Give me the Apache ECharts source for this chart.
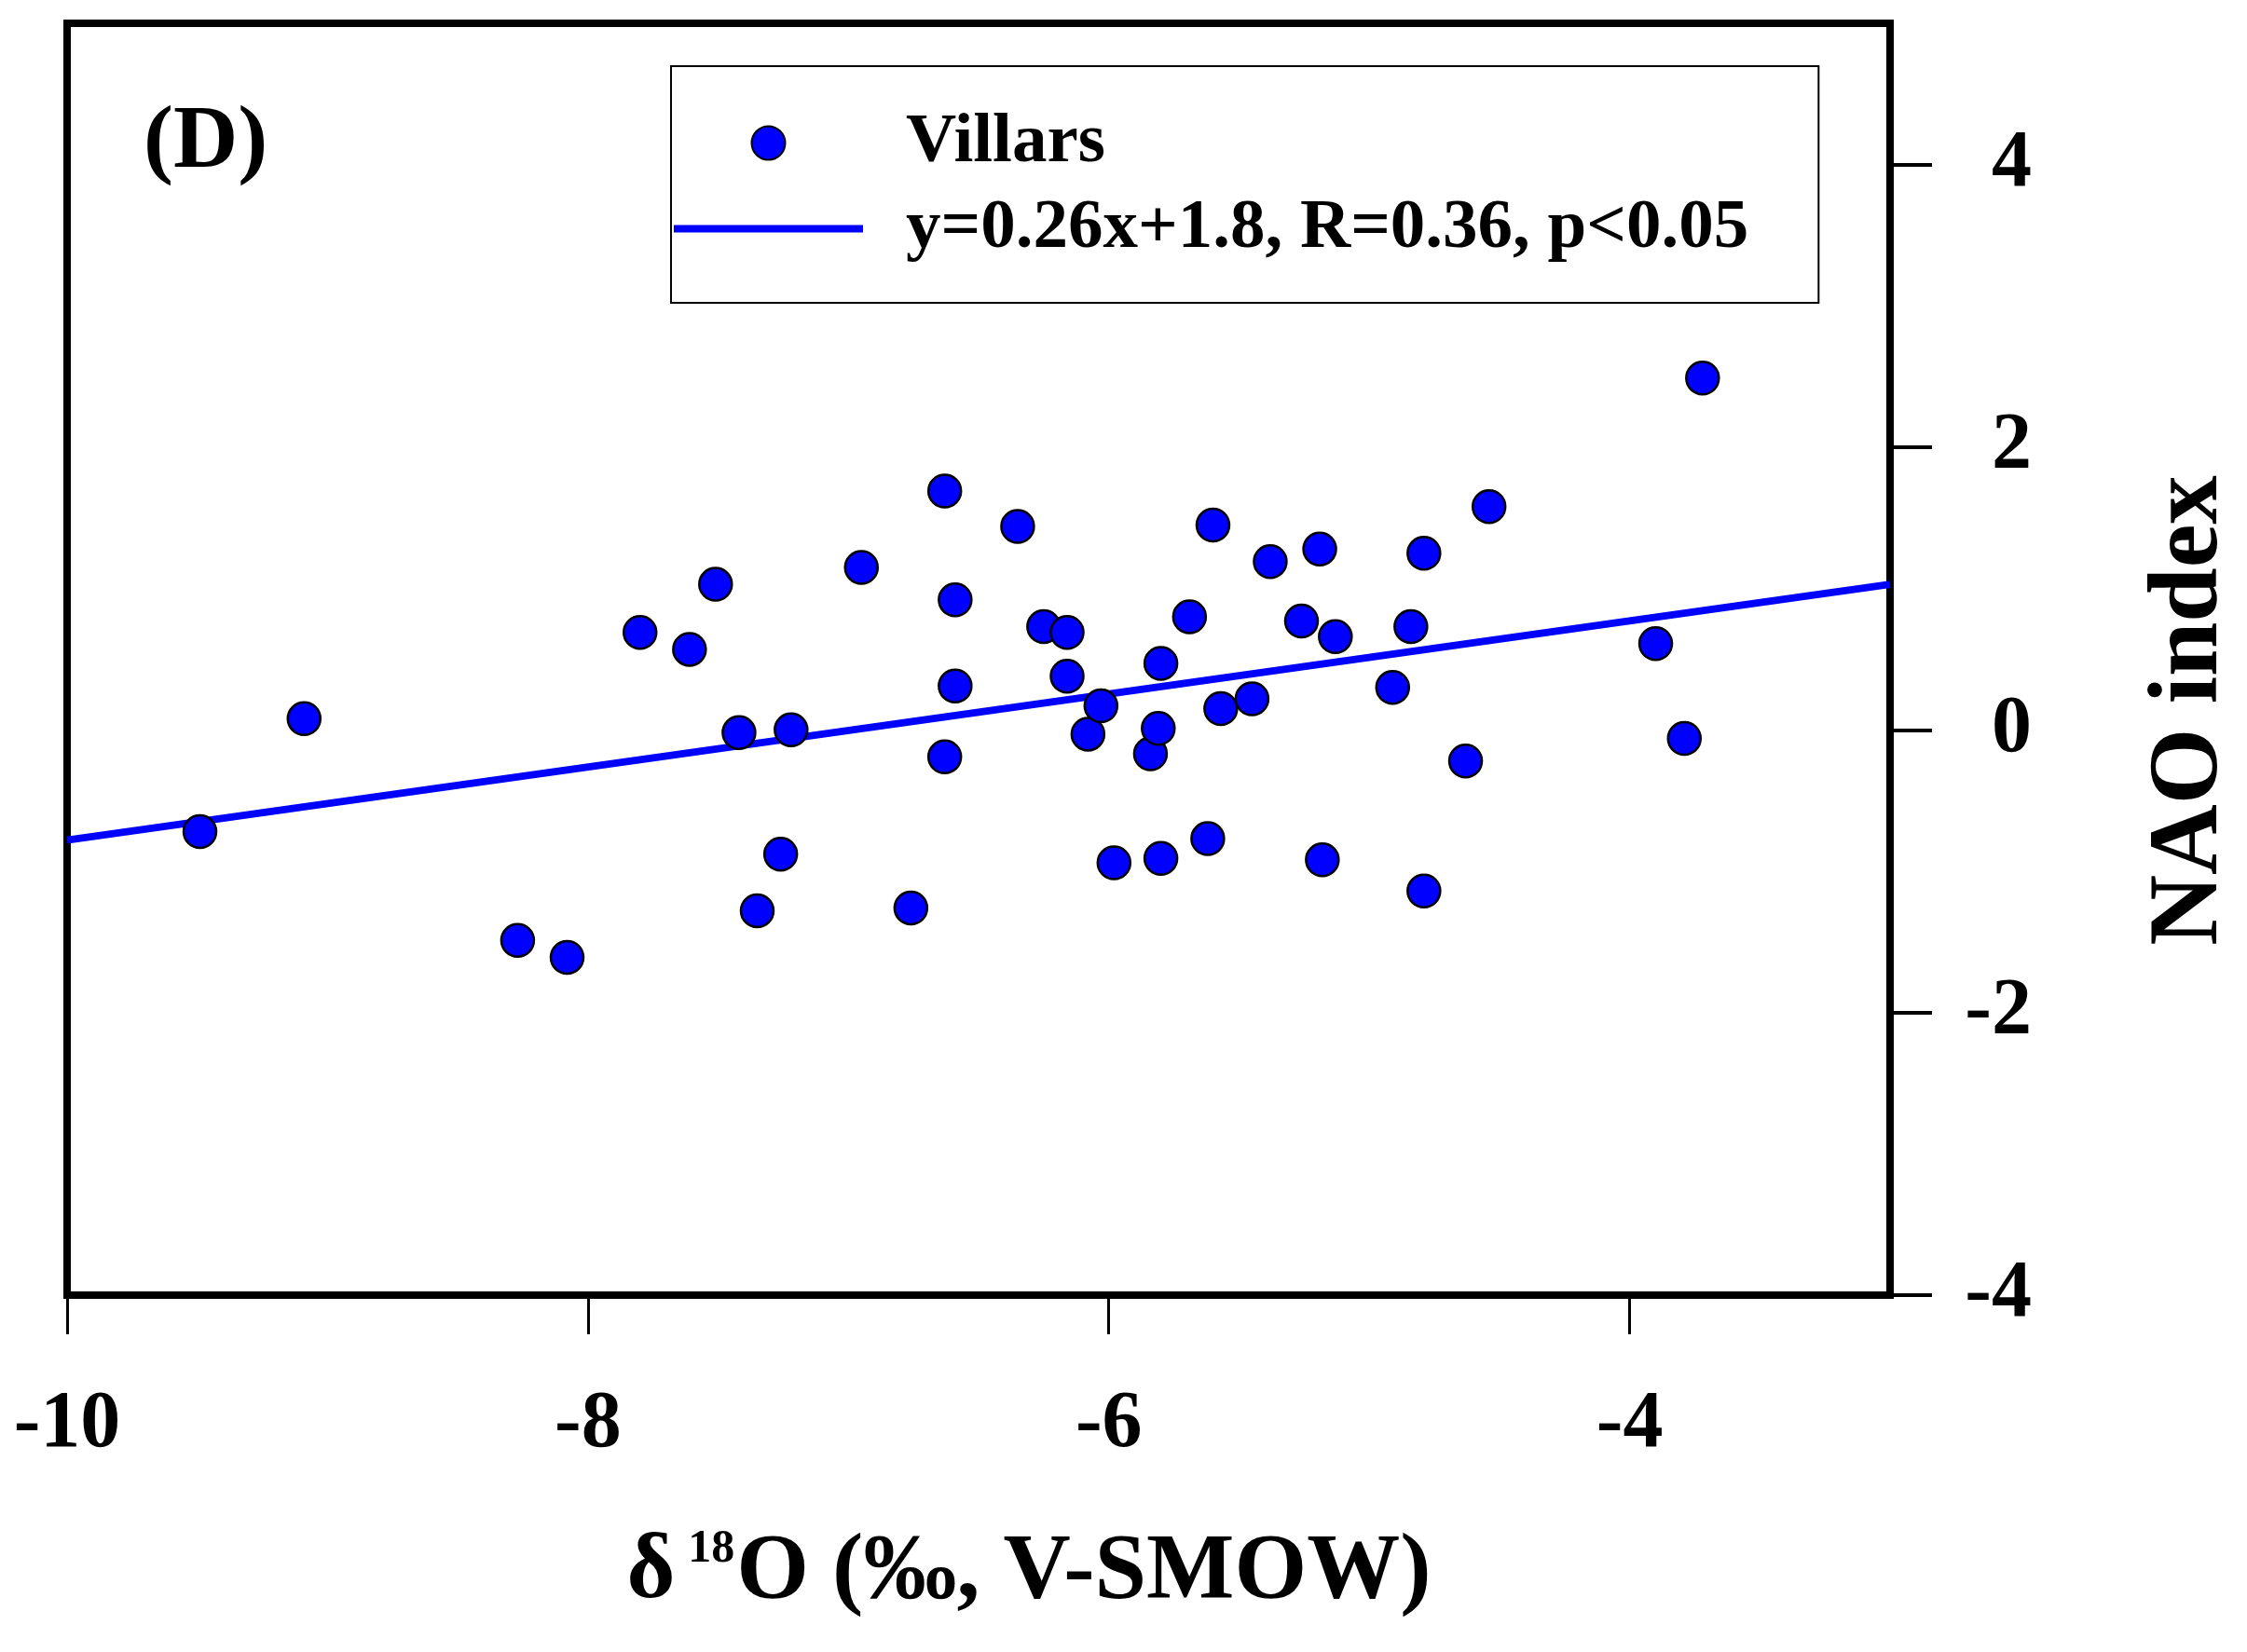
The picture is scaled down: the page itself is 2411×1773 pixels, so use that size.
<!DOCTYPE html>
<html>
<head>
<meta charset="utf-8">
<script src="https://cdn.jsdelivr.net/npm/echarts@6/dist/echarts.min.js"></script>
<style>
html,body{margin:0;padding:0;background:#fff;}
#chart{width:2411px;height:1773px;}
</style>
</head>
<body>
<div id="chart"></div>
<script>
// ---- data ----
const seriesName = 'Villars';
const fitName = 'y=0.26x+1.8, R=0.36, p<0.05';
const d18O = [-9.49,-9.09,-8.27,-8.08,-7.80,-7.61,-7.51,-7.42,-7.35,-7.26,-7.22,-6.95,-6.76,-6.63,-6.59,-6.59,-6.63,-6.35,-6.25,-6.16,-6.16,-6.08,-6.03,-5.98,-5.84,-5.80,-5.81,-5.80,-5.69,-5.62,-5.60,-5.57,-5.45,-5.38,-5.26,-5.19,-5.18,-5.13,-4.91,-4.84,-4.79,-4.79,-4.63,-4.54,-3.90,-3.79,-3.72];
const nao  = [-0.72,0.08,-1.49,-1.61,0.69,0.57,1.03,-0.02,-1.28,-0.88,0.00,1.15,-1.26,1.69,0.92,0.31,-0.19,1.44,0.73,0.69,0.38,-0.03,0.17,-0.94,-0.17,0.47,0.01,-0.91,0.80,-0.77,1.45,0.15,0.22,1.19,0.77,1.28,-0.92,0.66,0.30,0.73,1.25,-1.14,-0.22,1.58,0.61,-0.06,2.49];
const fitX = [-10, -3];
const fitY = [-0.78, 1.03];
const xTicks = [-10, -8, -6, -4];
const yTicks = [-4, -2, 0, 2, 4];

const scatterData = d18O.map((v, i) => [v, nao[i]]);
const fitData = fitX.map((v, i) => [v, fitY[i]]);

const FONT = 'Liberation Serif';
const chart = echarts.init(document.getElementById('chart'), null, {renderer: 'canvas'});
chart.setOption({
  backgroundColor: '#ffffff',
  animation: false,
  title: {
    text: '(D)', left: 154, top: 106, padding: 0,
    textStyle: {fontFamily: FONT, fontWeight: 'bold', fontSize: 96, color: '#000'}
  },
  grid: {
    left: 72, right: 380, top: 25, bottom: 383,
    show: true, borderColor: '#000', borderWidth: 8, backgroundColor: 'transparent'
  },
  legend: {
    data: [
      {name: seriesName, icon: 'circle'},
      {name: fitName, icon: 'path://M0,0L203,0L203,8L0,8Z'}
    ],
    orient: 'vertical',
    left: 720, top: 71,
    padding: [45, 75, 42, 3],
    borderColor: '#000', borderWidth: 2,
    itemWidth: 203, itemHeight: 36, itemGap: 17,
    symbolKeepAspect: true,
    textStyle: {fontFamily: FONT, fontWeight: 'bold', fontSize: 75, lineHeight: 75, color: '#000', padding: [0, 0, 0, 41]}
  },
  xAxis: {
    type: 'value', min: -10, max: -3, interval: 2,
    position: 'bottom',
    splitLine: {show: false},
    axisLine: {show: true, onZero: false, lineStyle: {color: '#000', width: 8}},
    axisTick: {show: true, inside: false, length: 42, lineStyle: {color: '#000', width: 3}, customValues: xTicks},
    axisLabel: {margin: 97, fontFamily: FONT, fontWeight: 'bold', fontSize: 86, color: '#000', customValues: xTicks},
    name: '{a|δ}{s|18}{a|O (‰, V-SMOW)}',
    nameLocation: 'middle', nameGap: 248,
    nameTextStyle: {
      padding: [0, 0, 0, 108],
      rich: {
        a: {fontFamily: FONT, fontWeight: 'bold', fontSize: 100, lineHeight: 100, color: '#000'},
        s: {fontFamily: FONT, fontWeight: 'bold', fontSize: 50, lineHeight: 100, color: '#000', verticalAlign: 'top', padding: [0, 2, 0, 14]}
      }
    }
  },
  yAxis: {
    type: 'value', min: -4, max: 5, interval: 2,
    position: 'right',
    splitLine: {show: false},
    axisLine: {show: true, onZero: false, lineStyle: {color: '#000', width: 8}},
    axisTick: {show: true, inside: false, length: 45, lineStyle: {color: '#000', width: 4}, customValues: yTicks},
    axisLabel: {margin: 152, align: 'right', fontFamily: FONT, fontWeight: 'bold', fontSize: 86, color: '#000', customValues: yTicks},
    name: 'NAO index',
    nameLocation: 'middle', nameRotate: 90, nameGap: 270,
    nameTextStyle: {fontFamily: FONT, fontWeight: 'bold', fontSize: 105, color: '#000', padding: [0, 110, 0, 0]}
  },
  series: [
    {
      name: fitName, type: 'line', data: fitData, z: 1,
      symbol: 'none', showSymbol: false,
      lineStyle: {color: '#0000ff', width: 8},
      itemStyle: {color: '#0000ff'}
    },
    {
      name: seriesName, type: 'scatter', data: scatterData, z: 3,
      symbol: 'circle', symbolSize: 35,
      itemStyle: {color: '#0000ff', borderColor: '#000', borderWidth: 2.5, opacity: 1}
    }
  ]
});
</script>
</body>
</html>
